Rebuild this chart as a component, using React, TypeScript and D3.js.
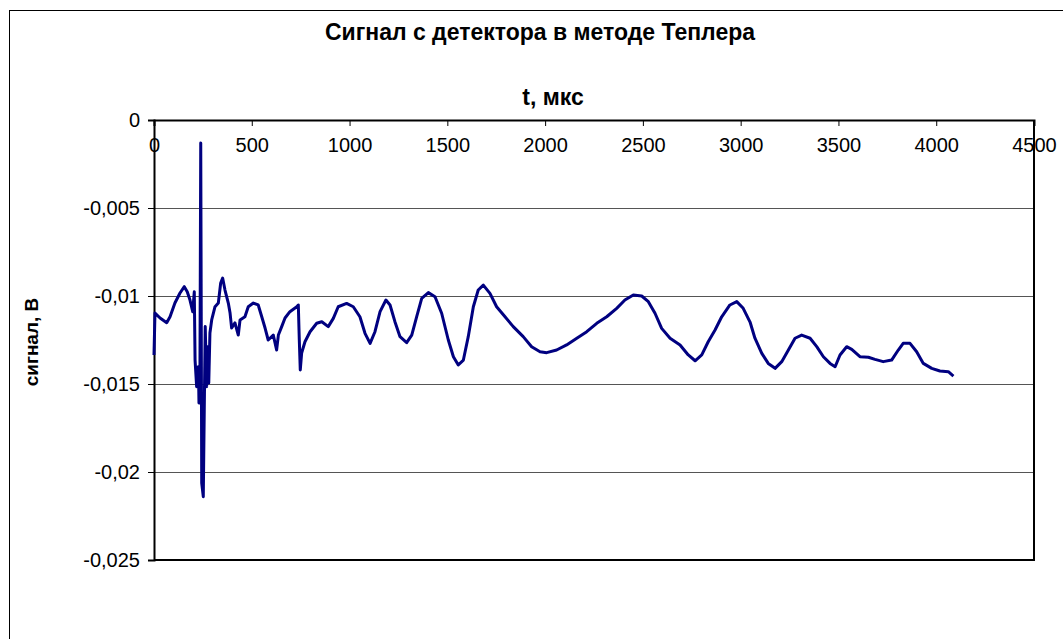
import React, { useEffect, useRef } from "react";
import * as d3 from "d3";

// time, µs
const times = [
  0, 5, 31, 65, 82, 107, 133, 155, 170, 184, 198, 206, 210, 218, 227, 230, 235, 239, 244, 252,
  257, 262, 269, 275, 280, 286, 295, 312, 329, 341, 351, 363, 380, 389, 397, 414, 431, 440, 465, 482,
  508, 533, 551, 568, 584, 610, 627, 636, 653, 670, 695, 730, 738, 743, 748, 755, 772, 798, 832, 858,
  891, 917, 942, 985, 1019, 1053, 1079, 1105, 1130, 1156, 1186, 1207, 1232, 1258, 1292, 1318, 1343, 1369, 1403, 1437,
  1471, 1505, 1531, 1556, 1582, 1607, 1633, 1658, 1684, 1718, 1752, 1795, 1837, 1888, 1931, 1974, 2008, 2059, 2110, 2162,
  2213, 2264, 2315, 2366, 2408, 2451, 2494, 2528, 2562, 2596, 2639, 2690, 2732, 2767, 2801, 2834, 2869, 2903, 2945, 2980,
  3013, 3048, 3073, 3108, 3141, 3176, 3210, 3244, 3278, 3312, 3355, 3389, 3423, 3457, 3483, 3508, 3542, 3568, 3610, 3653,
  3687, 3729, 3772, 3806, 3831, 3866, 3900, 3934, 3977, 4019, 4062, 4088,
];
// signal, V
const signal = [
  -0.01335, -0.01097, -0.01125, -0.01152, -0.01118, -0.0104, -0.00983, -0.00947, -0.00976, -0.01023,
  -0.01089, -0.00976, -0.01364, -0.01515, -0.01402, -0.01608, -0.0142, -0.00131, -0.02063, -0.0214,
  -0.01648, -0.01174, -0.01515, -0.01288, -0.01494, -0.0121, -0.01136, -0.01061, -0.0104, -0.00926,
  -0.00898, -0.00966, -0.0104, -0.01097, -0.01182, -0.01153, -0.01222, -0.01136, -0.01118, -0.01061,
  -0.0104, -0.01051, -0.01118, -0.01182, -0.0125, -0.01222, -0.01307, -0.01222, -0.01174, -0.01125,
  -0.01089, -0.01061, -0.01051, -0.0125, -0.0142, -0.01324, -0.0126, -0.01203, -0.01155, -0.01146,
  -0.01174, -0.01127, -0.01061, -0.01042, -0.01061, -0.01118, -0.01212, -0.01269, -0.01203, -0.01089,
  -0.01023, -0.01051, -0.01146, -0.01231, -0.01265, -0.01222, -0.01118, -0.01013, -0.00981, -0.01004,
  -0.01098, -0.0125, -0.01345, -0.01392, -0.01364, -0.01231, -0.01061, -0.00966, -0.00938, -0.00985,
  -0.01061, -0.01118, -0.01174, -0.01231, -0.01288, -0.01317, -0.01322, -0.01307, -0.01278, -0.0124,
  -0.01203, -0.01155, -0.01118, -0.0107, -0.01023, -0.00994, -0.01, -0.01032, -0.01098, -0.01184,
  -0.0124, -0.01278, -0.01335, -0.01368, -0.01335, -0.0126, -0.01193, -0.01118, -0.01051, -0.01032,
  -0.0107, -0.01148, -0.0124, -0.01326, -0.01383, -0.01411, -0.01373, -0.01307, -0.0124, -0.01222,
  -0.0124, -0.01288, -0.01345, -0.01383, -0.01402, -0.01335, -0.01288, -0.01303, -0.01345, -0.01348,
  -0.0136, -0.01373, -0.01364, -0.01307, -0.01269, -0.01269, -0.01317, -0.01383, -0.01411, -0.01426,
  -0.0143, -0.01455,
];
const xTicks = [0, 500, 1000, 1500, 2000, 2500, 3000, 3500, 4000, 4500];
const yTicks = [0, -0.005, -0.01, -0.015, -0.02, -0.025];

const width = 1063;
const height = 639;
const left = 154, right = 1034, top = 120, bottom = 560;
const font = "Liberation Sans, Arial, sans-serif";

const App = () => {
  const ref = useRef<SVGSVGElement>(null);

  useEffect(() => {
    const svg = d3.select(ref.current);
    svg.selectAll("*").remove();

    const x = d3.scaleLinear().domain([0, 4500]).range([left, right]);
    const y = d3.scaleLinear().domain([-0.025, 0]).range([bottom, top]);
    const fmt = (d: number) => String(d).replace(".", ",");

    // outer frame
    svg.append("rect")
      .attr("x", 9.5).attr("y", 10.5)
      .attr("width", 1200).attr("height", 800)
      .attr("fill", "none").attr("stroke", "#000");

    // gridlines
    svg.append("g")
      .selectAll("line")
      .data(yTicks.filter((d) => d !== 0 && d !== -0.025))
      .join("line")
      .attr("x1", left).attr("x2", right)
      .attr("y1", (d) => Math.round(y(d)) + 0.5).attr("y2", (d) => Math.round(y(d)) + 0.5)
      .attr("stroke", "#555");

    // plot border (right + bottom)
    svg.append("path")
      .attr("d", `M${right},${top}V${bottom}H${left}`)
      .attr("fill", "none").attr("stroke", "#000").attr("stroke-width", 2);

    // y axis
    const yAxis = svg.append("g")
      .attr("transform", `translate(${left},0)`)
      .call(d3.axisLeft(y).tickValues(yTicks).tickFormat((d) => fmt(d as number)).tickSize(6).tickPadding(8));
    yAxis.select(".domain").attr("stroke-width", 2);
    yAxis.selectAll("text").attr("font-size", 20).attr("font-family", font).attr("fill", "#000");

    // x axis at top (y = 0), ticks inside
    const xAxis = svg.append("g")
      .attr("transform", `translate(0,${top})`)
      .call(d3.axisBottom(x).tickValues(xTicks).tickSize(6).tickPadding(12).tickFormat((d) => String(d)));
    xAxis.select(".domain").attr("stroke-width", 2);
    xAxis.selectAll("text").attr("font-size", 20).attr("font-family", font).attr("fill", "#000");

    // signal line
    const pts = times.map((t, i) => [t, signal[i]] as [number, number]);
    svg.append("path")
      .datum(pts)
      .attr("fill", "none")
      .attr("stroke", "#000080")
      .attr("stroke-width", 3)
      .attr("stroke-linejoin", "round")
      .attr("d", d3.line<[number, number]>().x((d) => x(d[0])).y((d) => y(d[1])));

    // titles
    svg.append("text")
      .attr("x", 540).attr("y", 40)
      .attr("text-anchor", "middle")
      .attr("font-family", font)
      .attr("font-weight", "bold").attr("font-size", 23)
      .text("Сигнал с детектора в методе Теплера");

    svg.append("text")
      .attr("x", 553).attr("y", 105)
      .attr("text-anchor", "middle")
      .attr("font-family", font)
      .attr("font-weight", "bold").attr("font-size", 23)
      .text("t, мкс");

    svg.append("text")
      .attr("transform", "translate(38,342) rotate(-90)")
      .attr("text-anchor", "middle")
      .attr("font-family", font)
      .attr("font-weight", "bold").attr("font-size", 19)
      .text("сигнал, В");
  }, []);

  return (
    <div style={{ position: "absolute", left: 0, top: 0 }}>
      <svg ref={ref} width={width} height={height} style={{ display: "block", background: "#fff" }}></svg>
    </div>
  );
};

export default App;
